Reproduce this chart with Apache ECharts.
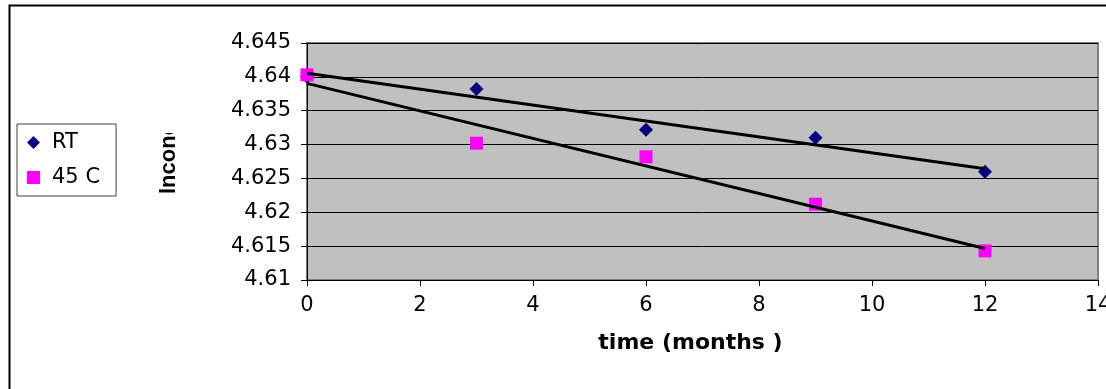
<!DOCTYPE html>
<html>
<head>
<meta charset="utf-8">
<script src="https://cdn.jsdelivr.net/npm/echarts@6/dist/echarts.min.js"></script>
<style>
  html, body { margin: 0; padding: 0; background: #fff; }
  #chart { width: 1106px; height: 389px; }
</style>
</head>
<body>
<div id="chart"></div>
<script>
// Storage time points (months) and measured ln(concentration)
const months = [0, 3, 6, 9, 12];
const rtValues = [4.6400, 4.6382, 4.6322, 4.6310, 4.6260];
const c45Values = [4.6403, 4.6302, 4.6282, 4.6212, 4.6143];
const seriesNames = ['RT', '45 C'];
const yTicks = { min: 4.61, max: 4.645, step: 0.005 };
const xTicks = { min: 0, max: 14, step: 2 };

// Least-squares linear fit, returned as its two end points
function linearFit(xs, ys) {
  const n = xs.length;
  const mx = xs.reduce((a, b) => a + b, 0) / n;
  const my = ys.reduce((a, b) => a + b, 0) / n;
  let sxy = 0, sxx = 0;
  for (let i = 0; i < n; i++) {
    sxy += (xs[i] - mx) * (ys[i] - my);
    sxx += (xs[i] - mx) * (xs[i] - mx);
  }
  const slope = sxy / sxx;
  const icpt = my - slope * mx;
  const x0 = Math.min(...xs), x1 = Math.max(...xs);
  return [[x0, icpt + slope * x0], [x1, icpt + slope * x1]];
}

const pairs = (xs, ys) => xs.map((x, i) => [x, ys[i]]);
const font = '"DejaVu Sans", Verdana, sans-serif';
const titleFont = '"Liberation Sans", Arial, sans-serif';

const chart = echarts.init(document.getElementById('chart'), null, { renderer: 'canvas' });
chart.setOption({
  animation: false,
  backgroundColor: '#ffffff',
  grid: {
    left: 307, top: 43, right: 8, bottom: 109,
    outerBoundsMode: 'none', containLabel: false,
    show: true, backgroundColor: '#c0c0c0', borderColor: '#808080', borderWidth: 2
  },
  legend: {
    data: [
      { name: seriesNames[0], icon: 'diamond' },
      { name: seriesNames[1], icon: 'rect' }
    ],
    orient: 'vertical',
    left: 17, top: 124,
    itemWidth: 13, itemHeight: 13,
    itemGap: 14,
    padding: [8, 16, 8, 10],
    backgroundColor: '#ffffff',
    borderColor: '#404040', borderWidth: 1,
    textStyle: { fontFamily: font, fontSize: 21, color: '#000', padding: [0, 0, 0, 7] }
  },
  xAxis: {
    type: 'value',
    min: xTicks.min, max: xTicks.max, interval: xTicks.step,
    name: 'time (months )',
    nameLocation: 'middle',
    nameGap: 52,
    nameTextStyle: {
      fontFamily: font, fontSize: 22, fontWeight: 'bold', color: '#000',
      letterSpacing: 2, padding: [0, 24, 0, 0]
    },
    axisLine: { show: true, lineStyle: { color: '#000', width: 1 } },
    axisTick: { show: true, inside: false, length: 6, lineStyle: { color: '#000' } },
    axisLabel: { fontFamily: font, fontSize: 21, color: '#000', margin: 15, letterSpacing: 1.5 },
    splitLine: { show: false }
  },
  yAxis: {
    type: 'value',
    min: yTicks.min, max: yTicks.max, interval: yTicks.step,
    axisLine: { show: true, lineStyle: { color: '#000', width: 1 } },
    axisTick: { show: true, inside: false, length: 6, lineStyle: { color: '#000' } },
    axisLabel: {
      fontFamily: font, fontSize: 21, color: '#000', margin: 16, letterSpacing: 1.5,
      formatter: v => String(parseFloat(v.toFixed(3)))
    },
    splitLine: { show: true, lineStyle: { color: '#000', width: 1 } }
  },
  graphic: [
    // outer chart frame
    {
      type: 'rect', z: 100, silent: true,
      shape: { x: 9.5, y: 5.5, width: 1110, height: 400 },
      style: { fill: 'none', stroke: '#000', lineWidth: 2 }
    },
    // y-axis title, its top cut off by the white box below
    {
      type: 'text', z: 100, silent: true,
      x: 158, y: 194, rotation: Math.PI / 2,
      style: { text: 'lnconc', fontFamily: titleFont, fontSize: 22, fontWeight: 'bold', fill: '#000' }
    },
    {
      type: 'rect', z: 101, silent: true,
      shape: { x: 145, y: 70, width: 45, height: 63 },
      style: { fill: '#ffffff' }
    }
  ],
  series: [
    {
      name: seriesNames[0], type: 'scatter',
      data: pairs(months, rtValues),
      symbol: 'diamond', symbolSize: 14,
      itemStyle: { color: '#000080', opacity: 1 }, z: 3
    },
    {
      name: seriesNames[1], type: 'scatter',
      data: pairs(months, c45Values),
      symbol: 'rect', symbolSize: 13,
      itemStyle: { color: '#ff00ff', opacity: 1 }, z: 4
    },
    {
      name: 'RT fit', type: 'line',
      data: linearFit(months, rtValues),
      symbol: 'none', lineStyle: { color: '#000', width: 3 }, z: 5
    },
    {
      name: '45 C fit', type: 'line',
      data: linearFit(months, c45Values),
      symbol: 'none', lineStyle: { color: '#000', width: 3 }, z: 5
    }
  ]
});
</script>
</body>
</html>
